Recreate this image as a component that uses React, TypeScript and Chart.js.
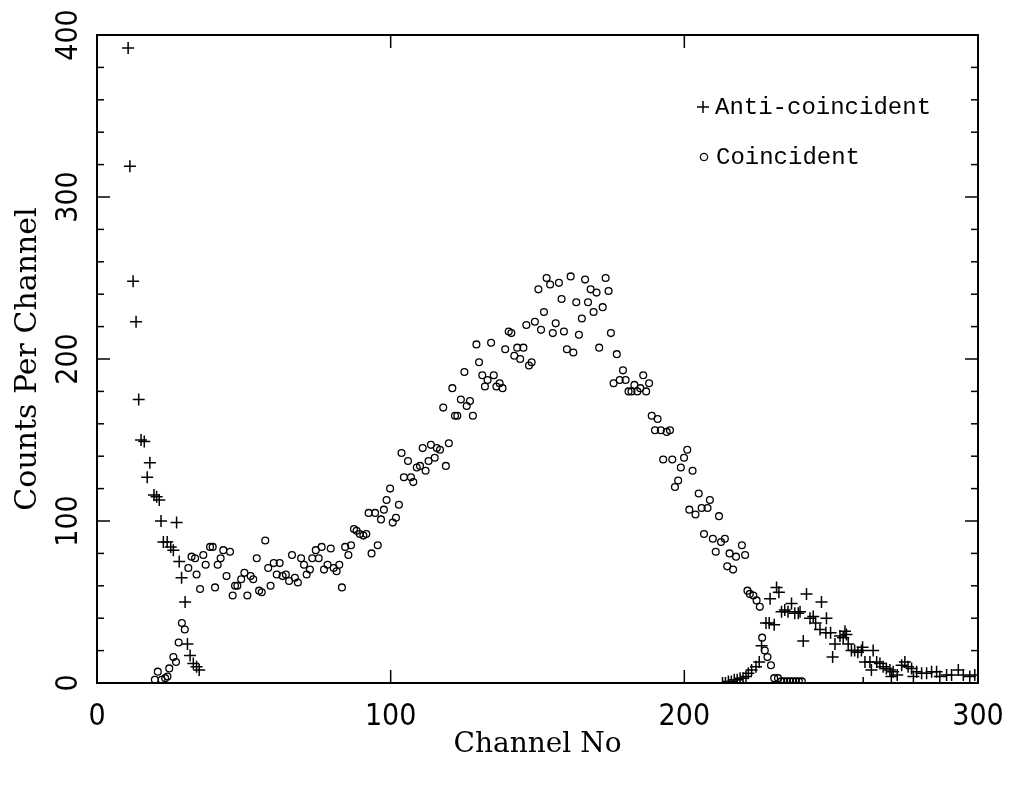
import React, { useEffect, useRef } from 'react';
import { Chart, registerables } from 'chart.js';

Chart.register(...registerables);

// ---- data ----
const antiX = [
  10.6, 11.2, 12.3, 13.3, 14.2, 15, 16.1, 17.1, 18, 19.4, 20.3, 21.2, 21.8, 22.6, 23.9, 25.1, 26, 27.1, 28,
  28.8, 30, 30.8, 31.7, 32.8, 33.9, 34.8,
  213, 214, 215, 216, 217, 218, 219, 220, 221, 221.8, 222.9, 224.4, 225.5, 226.3, 227.8, 228.9, 229.2,
  230.6, 231.4, 232.2, 233.1, 234.2, 235.3, 236.5, 237.6, 238.8, 239.4, 240.5, 241.6, 242.8, 243.9,
  244.7, 246.2, 246.7, 248.2, 248.4, 249.8, 250.5, 251.3, 253, 254.1, 254.7, 255.2, 255.8, 256.9, 258,
  259.1, 260.3, 260.7, 260.9, 261.5, 263.2, 263.7, 264.3, 265.5, 266.6, 267.7, 268.8, 270, 270.5,
  271.1, 272.5, 274, 275.1, 276.2, 277.4, 278, 279.1, 280.8, 282.5, 284.2, 285.9, 287, 289.3, 291,
  293.3, 295, 297.2, 298.9,
];
const antiY = [
  392, 319, 248, 223, 175, 150, 149, 127, 136, 116, 115, 113, 100, 87, 87, 84, 82, 99, 75,
  65, 50, 24, 17, 12, 10, 8,
  0, 0, 1, 1, 2, 2, 3, 3, 4, 6, 8, 10, 13, 23, 37, 37, 52,
  36, 59, 56, 44, 45, 44, 49, 43, 43, 44, 26, 55, 40, 41,
  37, 33, 50, 31, 40, 31, 16, 24, 29, 28, 32, 30, 24, 20, 20,
  19, 20, 22, 0, 13, 13, 8, 20, 13, 12, 10, 9, 8, 4,
  7, 5, 11, 13, 10, 9, 4, 7, 6, 6, 7, 7, 4, 5, 5,
  8, 5, 4, 5,
];

const coinX = [
  19.7, 20.7, 22, 23.2, 24, 24.6, 26, 26.9, 27.8, 28.9, 29.9, 31.1, 32.2, 33.4, 33.9, 35.1, 36.2, 37,
  38.5, 39.4, 40.2, 41.1, 42.1, 43, 44.1, 45.3, 46.2, 47, 47.8, 49.1, 50.2, 51.2, 52.3, 53.2, 54.4,
  55.2, 56.1, 57.3, 58.3, 59.1, 60.2, 61.2, 62.2, 63.2, 64.3, 65.4, 66.4, 67.4, 68.4, 69.5, 70.5,
  71.4, 72.5, 73.3, 74.5, 75.5, 76.5, 77.3, 78.5, 79.6, 80.6, 81.6, 82.5, 83.4, 84.5, 85.6, 86.5,
  87.5, 88.4, 89.5, 90.7, 91.7, 92.5, 93.5, 94.7, 95.6, 96.7, 97.7, 98.6, 99.8, 100.7, 101.8, 102.8,
  103.7, 104.5, 105.9, 106.9, 107.7, 108.9, 110, 110.9, 111.9, 112.9, 113.7, 115, 115.7, 116.8,
  117.9, 118.8, 119.8, 121, 121.9, 122.7, 123.9, 125.1, 125.9, 127, 128, 129.2, 130.1, 131.2, 132.1,
  133, 134.2, 135.1, 136, 137.1, 138.1, 139, 140.2, 141.1, 142.1, 143.1, 144.1, 145.2, 146.2, 147.1,
  148, 149.1, 150.3, 151.2, 152.2, 153.1, 154.3, 155.2, 156.2, 157.3, 158.2, 159, 160, 161.3, 162.2,
  163.2, 164.1, 165.1, 166.2, 167.2, 168.1, 169.1, 170.1, 171, 172.2, 173.2, 174.2, 175, 175.9, 177,
  178, 179.1, 180, 181, 182, 183, 184, 185, 186, 187, 188, 188.9, 190, 190.9, 192, 192.8, 194, 195.1,
  195.9, 196.8, 197.9, 198.8, 199.9, 201, 201.7, 202.8, 203.8, 204.9, 205.9, 206.7, 207.9, 208.7,
  209.7, 210.7, 211.8, 212.5, 213.8, 214.6, 215.4, 216.6, 217.6, 219.6, 220.7, 221.5, 222.3, 223.5,
  224.6, 225.7, 226.5, 227.4, 228.3, 229.5, 230.6, 231.9, 233, 234, 235, 236, 237, 238, 239, 240,
];
const coinY = [
  2, 7, 2, 3, 4, 9, 16, 13, 25, 37, 33, 71, 78, 77, 67, 58, 79, 73,
  84, 84, 59, 73, 77, 82, 66, 81, 54, 60, 60, 64, 68, 54, 66, 64, 77,
  57, 56, 88, 71, 60, 74, 67, 74, 66, 67, 63, 79, 65, 62, 77, 73,
  67, 70, 77, 82, 77, 84, 70, 73, 83, 71, 69, 73, 59, 84, 79, 85,
  95, 94, 92, 91, 92, 105, 80, 105, 85, 101, 107, 113, 120, 99, 102, 110,
  142, 127, 137, 127, 124, 133, 134, 145, 131, 137, 147, 139, 145, 144,
  170, 134, 148, 182, 165, 165, 175, 192, 171, 174, 165, 209, 198, 190, 183,
  187, 210, 190, 183, 185, 182, 206, 217, 216, 202, 207, 200, 207, 221, 196,
  198, 223, 243, 218, 229, 250, 246, 216, 222, 247, 237, 217, 206, 251, 204,
  235, 215, 225, 249, 235, 243, 229, 241, 207, 232, 250, 242, 216, 185, 203,
  187, 193, 187, 180, 180, 184, 180, 182, 190, 180, 185, 165, 156, 163, 156, 138, 155, 156,
  138, 121, 125, 133, 139, 144, 107, 131, 104, 117, 108, 92, 108, 113,
  89, 81, 103, 87, 89, 72, 80, 70, 78, 85, 79, 57, 55, 54,
  51, 47, 28, 20, 16, 11, 3, 3, 1, 1, 1, 1, 1, 1, 1, 1,
];

const seriesLabels = ['Anti-coincident', 'Coincident'];
const xTickValues = [0, 100, 200, 300];
const yTickValues = [0, 100, 200, 300, 400];
const yMinorStep = 20;
const xTitle = 'Channel No';
const yTitle = 'Counts Per Channel';

const TICK_FONT = "'Liberation Sans Narrow', 'DejaVu Sans Condensed', 'Roboto Condensed', sans-serif";
const TITLE_FONT = "'DejaVu Serif', serif";
const LEGEND_FONT = "'Liberation Mono', 'DejaVu Sans Mono', monospace";

const toPoints = (xs: number[], ys: number[]) => xs.map((x, i) => ({ x, y: ys[i] }));

const framePlugin = {
  id: 'frameTicksLegend',
  afterDraw(chart: any) {
    const { ctx, chartArea: a, scales } = chart;
    const xs = scales.x;
    const ys = scales.y;
    const line = (x1: number, y1: number, x2: number, y2: number) => {
      ctx.beginPath();
      ctx.moveTo(x1, y1);
      ctx.lineTo(x2, y2);
      ctx.stroke();
    };
    ctx.save();
    ctx.strokeStyle = '#000';
    ctx.fillStyle = '#000';
    ctx.lineWidth = 2;
    ctx.strokeRect(a.left, a.top, a.right - a.left, a.bottom - a.top);

    ctx.lineWidth = 1.5;
    const yMax = yTickValues[yTickValues.length - 1];
    for (let v = 0; v <= yMax; v += yMinorStep) {
      const y = ys.getPixelForValue(v);
      const len = yTickValues.includes(v) ? 13 : 7;
      line(a.left, y, a.left + len, y);
      line(a.right, y, a.right - len, y);
    }
    for (const v of xTickValues) {
      const x = xs.getPixelForValue(v);
      line(x, a.bottom, x, a.bottom - 13);
      line(x, a.top, x, a.top + 13);
    }

    // rotated y tick labels
    ctx.font = `30px ${TICK_FONT}`;
    ctx.textAlign = 'center';
    ctx.textBaseline = 'middle';
    for (const v of yTickValues) {
      ctx.save();
      ctx.translate(68, ys.getPixelForValue(v));
      ctx.rotate(-Math.PI / 2);
      ctx.fillText(String(v), 0, 1);
      ctx.restore();
    }

    // legend
    ctx.font = `24px ${LEGEND_FONT}`;
    ctx.textAlign = 'left';
    ctx.textBaseline = 'middle';
    ctx.lineWidth = 1.5;
    line(697, 107, 709, 107);
    line(703, 101, 703, 113);
    ctx.fillText(seriesLabels[0], 715, 108);
    ctx.lineWidth = 1.3;
    ctx.beginPath();
    ctx.arc(704, 157, 3.6, 0, Math.PI * 2);
    ctx.stroke();
    ctx.fillText(seriesLabels[1], 716, 158);
    ctx.restore();
  },
};

export default function App() {
  const ref = useRef<HTMLCanvasElement | null>(null);
  useEffect(() => {
    if (!ref.current) return;
    const chart = new Chart(ref.current, {
      type: 'scatter',
      data: {
        datasets: [
          {
            label: seriesLabels[0],
            data: toPoints(antiX, antiY),
            pointStyle: 'cross',
            pointRadius: 6,
            pointHoverRadius: 6,
            borderColor: '#000',
            backgroundColor: '#000',
            borderWidth: 1.5,
            showLine: false,
          },
          {
            label: seriesLabels[1],
            data: toPoints(coinX, coinY),
            pointStyle: 'circle',
            pointRadius: 3.4,
            pointHoverRadius: 3.4,
            borderColor: '#000',
            backgroundColor: 'rgba(0,0,0,0)',
            borderWidth: 1.3,
            showLine: false,
          },
        ],
      },
      options: {
        animation: false,
        responsive: true,
        maintainAspectRatio: false,
        events: [],
        layout: { padding: { top: 35, right: 39, left: 0, bottom: 0 } },
        plugins: { legend: { display: false }, tooltip: { enabled: false } },
        scales: {
          x: {
            type: 'linear',
            min: 0,
            max: 300,
            afterFit: (s: any) => { s.height = 104; },
            afterBuildTicks: (s: any) => { s.ticks = xTickValues.map((v) => ({ value: v })); },
            grid: { display: false },
            border: { display: false },
            ticks: { color: '#000', padding: 8, font: { family: TICK_FONT, size: 30 } },
            title: {
              display: true,
              text: xTitle,
              color: '#000',
              font: { family: TITLE_FONT, size: 28 },
              padding: { top: 0, bottom: 25 },
            },
          },
          y: {
            type: 'linear',
            min: 0,
            max: 400,
            afterFit: (s: any) => { s.width = 97; },
            afterBuildTicks: (s: any) => { s.ticks = yTickValues.map((v) => ({ value: v })); },
            grid: { display: false },
            border: { display: false },
            ticks: { display: false },
            title: {
              display: true,
              text: yTitle,
              color: '#000',
              font: { family: TITLE_FONT, size: 30 },
              padding: { top: 10, bottom: 0 },
            },
          },
        },
      },
      plugins: [framePlugin],
    });
    return () => chart.destroy();
  }, []);
  return (
    <div style={{ position: 'fixed', left: 0, top: 0, width: 1017, height: 787, background: '#fff' }}>
      <canvas ref={ref} />
    </div>
  );
}
